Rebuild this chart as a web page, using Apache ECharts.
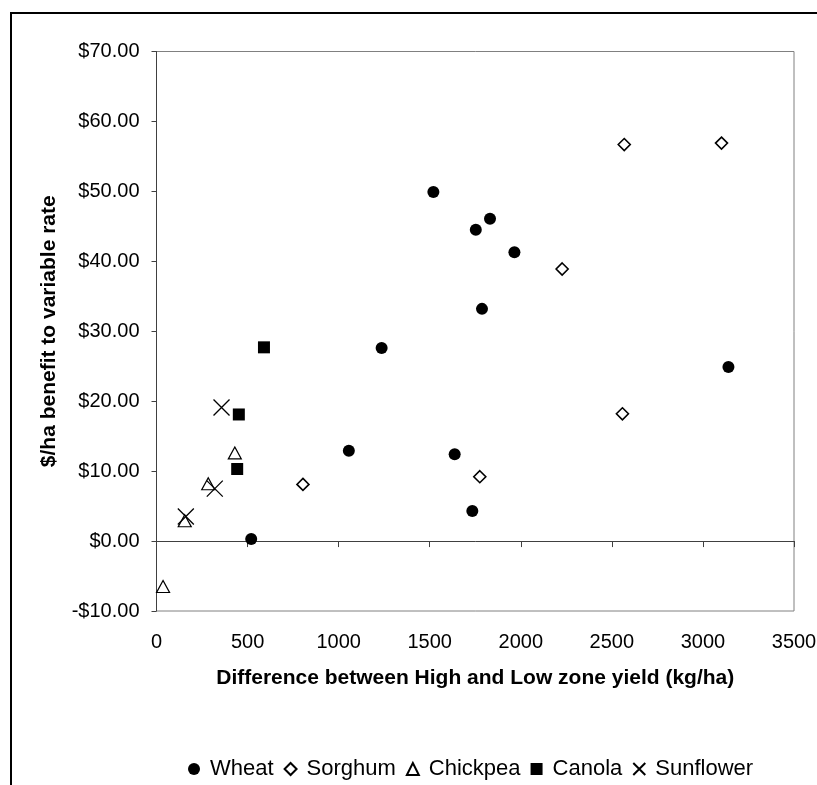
<!DOCTYPE html>
<html>
<head>
<meta charset="utf-8">
<script src="https://cdn.jsdelivr.net/npm/echarts@6/dist/echarts.min.js"></script>
<style>
html,body{margin:0;padding:0;background:#fff;}
#chart{width:817px;height:785px;}
</style>
</head>
<body>
<div id="chart"></div>
<script>
// ---- data ----
var seriesNames = ['Wheat', 'Sorghum', 'Chickpea', 'Canola', 'Sunflower'];
var wheatX = [520, 1056, 1236, 1520, 1637, 1734, 1753, 1787, 1831, 1965, 3140];
var wheatY = [0.3, 12.9, 27.6, 49.9, 12.4, 4.3, 44.5, 33.2, 46.1, 41.3, 24.9];
var sorghumX = [804, 1775, 2227, 2558, 2568, 3102];
var sorghumY = [8.1, 9.2, 38.9, 18.2, 56.7, 56.9];
var chickpeaX = [36, 155, 284, 430];
var chickpeaY = [-6.5, 2.9, 8.2, 12.6];
var canolaX = [443, 452, 590];
var canolaY = [10.3, 18.1, 27.7];
var sunflowerX = [161, 320, 357];
var sunflowerY = [3.5, 7.5, 19.1];
var xTicks = [0, 500, 1000, 1500, 2000, 2500, 3000, 3500];
var yTicks = [-10, 0, 10, 20, 30, 40, 50, 60, 70];
var xTitle = 'Difference between High and Low zone yield (kg/ha)';
var yTitle = '$/ha benefit to variable rate';

function pairs(xs, ys) { return xs.map(function (x, i) { return [x, ys[i]]; }); }

var FONT = '"Liberation Sans", Arial, sans-serif';
var chart = echarts.init(document.getElementById('chart'), null, { renderer: 'canvas' });

var option = {
  animation: false,
  backgroundColor: '#fff',
  textStyle: { fontFamily: FONT, color: '#000' },
  graphic: [{
    type: 'rect', silent: true, z: -10,
    shape: { x: 11, y: 13, width: 1000, height: 1000 },
    style: { fill: 'none', stroke: '#000', lineWidth: 2 }
  }],
  grid: {
    left: 156.5, right: 23, top: 51.5, bottom: 174,
    containLabel: false, outerBoundsMode: 'none',
    show: true, borderColor: '#808080', borderWidth: 1, backgroundColor: 'transparent'
  },
  legend: {
    data: seriesNames,
    left: 183, top: 753,
    itemWidth: 12, itemHeight: 12, itemGap: 10,
    symbolKeepAspect: true,
    textStyle: { fontSize: 22, color: '#000', fontFamily: FONT, padding: [0, 0, 0, 5] },
    selectedMode: false
  },
  xAxis: [{
    type: 'value', position: 'bottom',
    min: xTicks[0], max: xTicks[xTicks.length - 1], interval: 500,
    axisLine: { show: false, onZero: false },
    axisTick: { show: false },
    splitLine: { show: false },
    axisLabel: { margin: 21, fontSize: 20, color: '#000', fontFamily: FONT,
      formatter: function (v) { return String(v); } },
    name: xTitle, nameLocation: 'middle', nameGap: 57,
    nameTextStyle: { fontSize: 21, fontWeight: 'bold', color: '#000', fontFamily: FONT }
  }, {
    type: 'value', position: 'bottom',
    min: xTicks[0], max: xTicks[xTicks.length - 1], interval: 500,
    axisLine: { show: true, onZero: true, lineStyle: { color: '#404040', width: 1 } },
    axisTick: { show: true, inside: false, length: 6, lineStyle: { color: '#404040', width: 1 } },
    axisLabel: { show: false },
    splitLine: { show: false }
  }],
  yAxis: {
    type: 'value',
    min: yTicks[0], max: yTicks[yTicks.length - 1], interval: 10,
    axisLine: { show: true, onZero: false, lineStyle: { color: '#404040', width: 1 } },
    axisTick: { show: true, inside: false, length: 5, lineStyle: { color: '#404040', width: 1 } },
    splitLine: { show: false },
    axisLabel: {
      margin: 17, fontSize: 20, color: '#000', fontFamily: FONT,
      formatter: function (v) { return (v < 0 ? '-$' : '$') + Math.abs(v).toFixed(2); }
    },
    name: yTitle, nameLocation: 'middle', nameGap: 97, nameRotate: 90,
    nameTextStyle: { fontSize: 21, fontWeight: 'bold', color: '#000', fontFamily: FONT }
  },
  series: [{
    name: 'Wheat', type: 'scatter', xAxisIndex: 0,
    data: pairs(wheatX, wheatY), symbol: 'circle', symbolSize: 12,
    itemStyle: { color: '#000', opacity: 1 }
  }, {
    name: 'Sorghum', type: 'scatter', xAxisIndex: 0,
    data: pairs(sorghumX, sorghumY), symbol: 'diamond', symbolSize: 12,
    itemStyle: { color: '#fff', borderColor: '#000', borderWidth: 1.6, opacity: 1 }
  }, {
    name: 'Chickpea', type: 'scatter', xAxisIndex: 0,
    data: pairs(chickpeaX, chickpeaY), symbol: 'triangle', symbolSize: [13, 12],
    itemStyle: { color: '#fff', borderColor: '#000', borderWidth: 1.2, opacity: 1 }
  }, {
    name: 'Canola', type: 'scatter', xAxisIndex: 0,
    data: pairs(canolaX, canolaY), symbol: 'rect', symbolSize: 12,
    itemStyle: { color: '#000', opacity: 1 }
  }, {
    name: 'Sunflower', type: 'scatter', xAxisIndex: 0,
    data: pairs(sunflowerX, sunflowerY), symbol: 'path://M0,0L10,10M0,10L10,0', symbolSize: 16,
    itemStyle: { color: 'transparent', borderColor: '#000', borderWidth: 1.3, opacity: 1 }
  }]
};
chart.setOption(option);
</script>
</body>
</html>
